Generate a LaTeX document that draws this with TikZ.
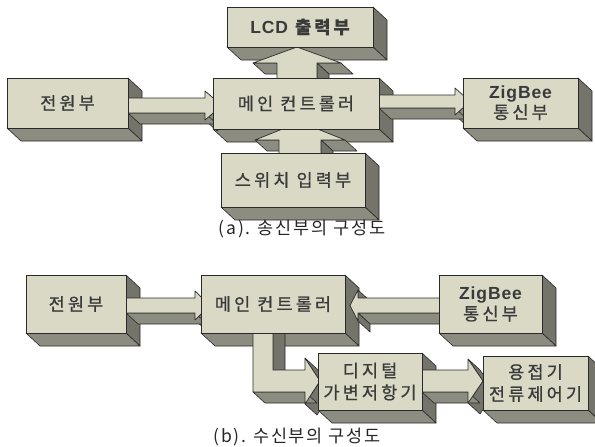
\documentclass[tikz,border=0pt]{standalone}
\usepackage{fontspec}
\setmainfont{Noto Sans CJK KR}
\newfontfamily\krs{Noto Sans CJK KR}[LetterSpace=18,FakeBold=0.8]
\newfontfamily\krc{Noto Sans CJK KR}[LetterSpace=10]
\newfontfamily\latb{Liberation Sans}[LetterSpace=5]
\usetikzlibrary{calc}
\pgfdeclarelayer{bg}\pgfdeclarelayer{bext}\pgfdeclarelayer{aext}\pgfdeclarelayer{afront}
\pgfsetlayers{bg,bext,aext,afront,main}
\definecolor{frontc}{HTML}{D9D9C6}
\definecolor{sidec}{HTML}{74746A}
\definecolor{botc}{HTML}{8C8C80}
\definecolor{edgec}{HTML}{2A2A2A}
\definecolor{txtc}{HTML}{3A3A3A}
\newcommand\DX{14}\newcommand\DY{13}
\newcommand\ADX{12}\newcommand\ADY{11}
\tikzset{
  extr/.style={draw=edgec, line width=0.6pt, line join=round},
  frontface/.style={draw=edgec, fill=frontc, line width=0.7pt, line join=round},
  frontbox/.style={frontface, rectangle, inner sep=0pt, outer sep=0pt, align=center,
     text=txtc, font=\krs\fontsize{17.5}{19}\selectfont},
  caption/.style={text=black!85, font=\krc\fontsize{17.5}{20}\selectfont, inner sep=0pt}
}
\newcommand\tdbox[6]{%
 \begin{pgfonlayer}{bext}
  \filldraw[extr,fill=sidec] (#4,#3) -- ({#4+\DX},{#3+\DY}) -- ({#4+\DX},{#5+\DY}) -- (#4,#5) -- cycle;
  \filldraw[extr,fill=botc] (#2,#5) -- (#4,#5) -- ({#4+\DX},{#5+\DY}) -- ({#2+\DX},{#5+\DY}) -- cycle;
 \end{pgfonlayer}
 \node[frontbox, minimum width={(#4-#2)*1pt}, minimum height={(#5-#3)*1pt}] (#1) at ({(#2+#4)/2},{(#3+#5)/2}) {#6};
}
\newcommand\blockarrow[3]{%
 \begin{pgfonlayer}{aext}
  \xdef\px{#1}\xdef\py{#2}%
  \foreach \x/\y in {#3}{%
    \pgfmathtruncatemacro\isvis{((\y-\py)-(\x-\px))>0.5}%
    \pgfmathtruncatemacro\isside{abs(\y-\py)>abs(\x-\px)}%
    \ifnum\isvis=1
      \ifnum\isside=1 \def\fc{sidec}\else\def\fc{botc}\fi
      \filldraw[extr,fill=\fc] (\px,\py) -- (\x,\y) -- ({\x+\ADX},{\y+\ADY}) -- ({\px+\ADX},{\py+\ADY}) -- cycle;
    \fi
    \xdef\px{\x}\xdef\py{\y}%
  }
 \end{pgfonlayer}
 \begin{pgfonlayer}{afront}
  \filldraw[frontface] (#1,#2) \foreach \x/\y in {#3}{ -- (\x,\y)} -- cycle;
 \end{pgfonlayer}
}
\newcommand\zig{{\latb\bfseries\fontsize{17.5}{17.5}\selectfont ZigBee}}
\begin{document}
\begin{tikzpicture}[x=1pt,y=-1pt]
\begin{pgfonlayer}{bg}
\fill[white] (0,0) rectangle (595,447);
\end{pgfonlayer}
\useasboundingbox (0,0) rectangle (595,447);
% ---------- (a) ----------
\tdbox{pa}{7}{78}{128}{128}{전원부}
\tdbox{ma}{213}{78}{379}{129}{메인 컨트롤러}
\tdbox{la}{227}{7}{373}{47}{{\latb\bfseries LCD} {\bfseries 출력부}}
\tdbox{za}{463}{78}{578}{128}{\zig\\[1pt]통신부}
\tdbox{sa}{221}{153}{365}{207}{스위치 입력부}
% arrows (a)
\blockarrow{128}{98}{205/98, 205/91, 222/105.5, 205/120, 205/113, 128/113, 128/98}
\blockarrow{379}{95}{455/95, 455/88, 470/101.5, 455/115, 455/108, 379/108, 379/95}
\blockarrow{277}{90}{277/63, 253/63, 297/47, 341/63, 317/63, 317/90, 277/90}
\blockarrow{279}{165}{279/140, 255/140, 300/122, 345/140, 321/140, 321/165, 279/165}
\node[caption] (capa) at (302,229) {(a).\hspace{7pt}송신부의\hspace{6pt}구성도};
% ---------- (b) ----------
\tdbox{pb}{26}{275}{126}{333}{전원부}
\tdbox{mb}{201}{275}{345}{333}{메인 컨트롤러}
\tdbox{zb}{439}{275}{542}{333}{\zig\\[2pt]통신부}
\tdbox{db}{318}{353}{422}{410}{디지털\\[3pt]가변저항기}
\tdbox{wb}{483}{356}{588}{410}{용접기\\[3pt]전류제어기}
% arrows (b)
\blockarrow{126}{298}{195/298, 195/291, 210/305.5, 195/320, 195/313, 126/313, 126/298}
\blockarrow{350}{305.5}{358/290, 358/298, 445/298, 445/313, 358/313, 358/321, 350/305.5}
\blockarrow{253}{320}{273/320, 273/370, 305/370, 305/358, 320/381, 305/404, 305/392, 253/392, 253/320}
\blockarrow{422}{370}{468/370, 468/359, 483/381, 468/403, 468/392, 422/392, 422/370}
\node[caption] (capb) at (297,437) {(b).\hspace{7pt}수신부의\hspace{6pt}구성도};
\end{tikzpicture}
\end{document}
